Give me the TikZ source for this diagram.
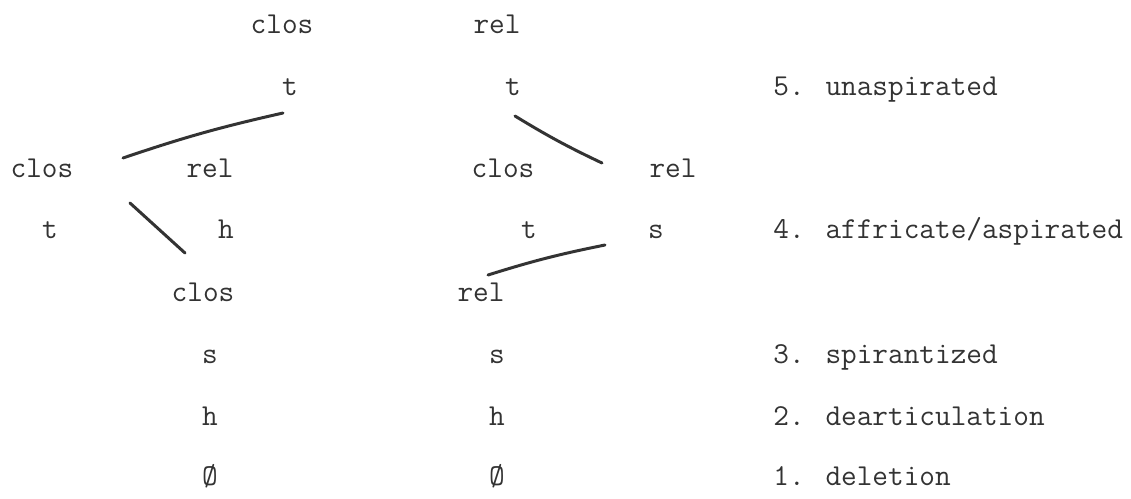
\documentclass[tikz,border=0pt]{standalone}
\usepackage{tikz}
\usetikzlibrary{positioning}
\tikzstyle{seg} = [font=\ttfamily\fontsize{17.3}{20}\selectfont, inner sep=0pt, text height=1.6ex, text depth=0.2ex, text=black!80]
\tikzstyle{stage} = [seg, anchor=west]
\tikzstyle{stroke} = [line width=1.7pt, draw=black!80, line cap=round]

\begin{document}
\begin{tikzpicture}[x=0.02cm, y=-0.02cm]
    \useasboundingbox (0,0) rectangle (1131,498);

    % Top pair
    \node (closA) [seg] at (282,28) {clos};
    \node (relA) [seg] at (497,28) {rel};
    \node (tA) [seg] at (290,90) {t};
    \node (tB) [seg] at (513,90) {t};

    % Split pairs
    \node (closB) [seg] at (42,172) {clos};
    \node (relB) [seg] at (210,172) {rel};
    \node (closC) [seg] at (503,172) {clos};
    \node (relC) [seg] at (673,172) {rel};
    \node (tC) [seg] at (50,233) {t};
    \node (hA) [seg] at (226,233) {h};
    \node (tD) [seg] at (529,233) {t};
    \node (sA) [seg] at (656,233) {s};

    % Lower columns
    \node (closD) [seg] at (203,296) {clos};
    \node (relD) [seg] at (481,296) {rel};
    \node (sB) [seg] at (210,358) {s};
    \node (sC) [seg] at (497,358) {s};
    \node (hB) [seg] at (210,420) {h};
    \node (hC) [seg] at (497,420) {h};
    \node (zA) [seg] at (210,480) {\O};
    \node (zB) [seg] at (497,480) {\O};

    % Stages
    \node (st5) [stage] at (773,90) {5. unaspirated};
    \node (st4) [stage] at (773,233) {4. affricate/aspirated};
    \node (st3) [stage] at (773,358) {3. spirantized};
    \node (st2) [stage] at (773,420) {2. dearticulation};
    \node (st1) [stage] at (773,480) {1. deletion};

    % Hand strokes
    \coordinate (tAfoot) at (283,113);
    \coordinate (closBtop) at (123,158);
    \coordinate (tBfoot) at (515,116);
    \coordinate (relCtop) at (602,163);
    \coordinate (tCfoot) at (130,203);
    \coordinate (closDtop) at (185,253);
    \coordinate (sAfoot) at (605,245);
    \coordinate (relDtop) at (488,275);
    \draw [stroke] (closBtop) to[bend left=3] (tAfoot);
    \draw [stroke] (tBfoot) to[bend right=3] (relCtop);
    \draw [stroke] (tCfoot) -- (closDtop);
    \draw [stroke] (relDtop) to[bend left=3] (sAfoot);
\end{tikzpicture}
\end{document}
